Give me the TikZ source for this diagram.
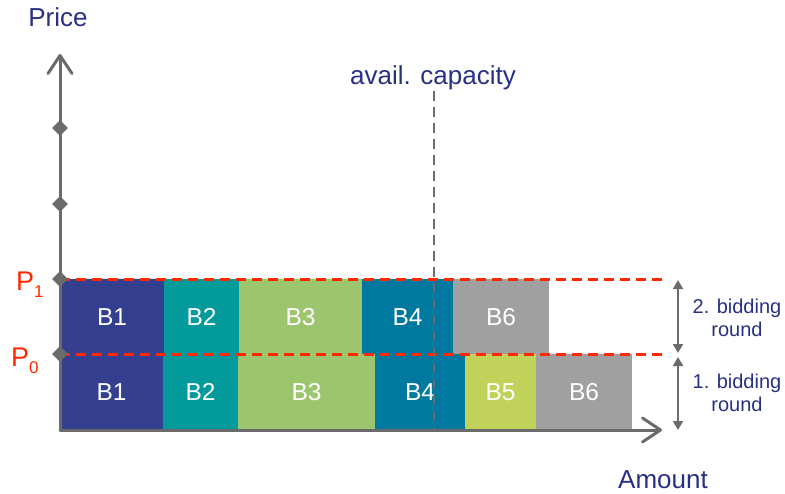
\documentclass[tikz,border=0pt]{standalone}
\usepackage{fontspec}
\setmainfont{Liberation Sans}
\usetikzlibrary{arrows.meta,shapes.geometric}
\definecolor{axisgrey}{RGB}{107,107,107}
\definecolor{labelblue}{RGB}{40,48,130}
\definecolor{pricered}{RGB}{255,40,0}
\definecolor{cbone}{RGB}{53,63,143}
\definecolor{cbtwo}{RGB}{2,154,154}
\definecolor{cbthree}{RGB}{157,197,109}
\definecolor{cbfour}{RGB}{0,121,160}
\definecolor{cbfive}{RGB}{192,210,90}
\definecolor{cbsix}{RGB}{160,160,160}
\begin{document}
\begin{tikzpicture}[x=1pt,y=-1pt,
  bid/.style={inner sep=0pt,outer sep=0pt,text=white,text height=17.5pt,text depth=0pt,
    font=\fontsize{24.5}{28}\selectfont},
  toprow/.style={bid,minimum height=75pt},
  botrow/.style={bid,minimum height=76pt},
  axisline/.style={draw=axisgrey,line width=3pt,line cap=round,line join=round,
    -{Straight Barb[length=18pt,width=24pt,line cap=round,line join=round]}},
  tickmark/.style={diamond,fill=axisgrey,inner sep=0pt,minimum width=16pt,minimum height=16pt},
  reddash/.style={draw=pricered,line width=3pt,dash pattern=on 10pt off 6pt},
  capline/.style={draw=axisgrey,line width=2.5pt,dash pattern=on 10pt off 6pt},
  span/.style={draw=axisgrey,line width=2pt,
    {Triangle[length=9pt,width=10pt]}-{Triangle[length=9pt,width=10pt]}},
  axislabel/.style={text=labelblue,font=\fontsize{26}{30}\selectfont,inner sep=0pt},
  roundlabel/.style={text=labelblue,font=\fontsize{20}{23}\selectfont,align=center,inner sep=0pt},
  pricelabel/.style={text=pricered,font=\fontsize{27}{30}\selectfont,inner sep=0pt}]
\useasboundingbox (0,0) rectangle (785,493);

% second bidding round (P0 .. P1)
\node[toprow,fill=cbone,minimum width=104pt]   (t1) at (112,316.5)   {B1};
\node[toprow,fill=cbtwo,minimum width=75pt]    (t2) at (201.5,316.5) {B2};
\node[toprow,fill=cbthree,minimum width=123pt] (t3) at (300.5,316.5) {B3};
\node[toprow,fill=cbfour,minimum width=91pt]   (t4) at (407.5,316.5) {B4};
\node[toprow,fill=cbsix,minimum width=96pt]    (t6) at (501,316.5)   {B6};

% first bidding round (0 .. P0)
\node[botrow,fill=cbone,minimum width=103pt]   (b1) at (111.5,392) {B1};
\node[botrow,fill=cbtwo,minimum width=75pt]    (b2) at (200.5,392) {B2};
\node[botrow,fill=cbthree,minimum width=137pt] (b3) at (306.5,392) {B3};
\node[botrow,fill=cbfour,minimum width=90pt]   (b4) at (420,392)   {B4};
\node[botrow,fill=cbfive,minimum width=71pt]   (b5) at (500.5,392) {B5};
\node[botrow,fill=cbsix,minimum width=96pt]    (b6) at (584,392)   {B6};

% axes
\coordinate (origin) at (60,430);
\coordinate (ytip) at (60,54);
\coordinate (xtip) at (662,430);

% price levels
\coordinate (pone) at (60,279);
\coordinate (pzero) at (60,354);
\coordinate (poneend) at (666,279);
\coordinate (pzeroend) at (666,354);
\draw[reddash] (pone) -- (poneend);
\draw[reddash] (pzero) -- (pzeroend);

% available capacity
\coordinate (captop) at (434,91);
\coordinate (capbot) at (434,430);
\draw[capline] (captop) -- (capbot);

\draw[axisline] (origin) -- (ytip);
\draw[axisline] (origin) -- (xtip);

\node[tickmark] (d1) at (60,128) {};
\node[tickmark] (d2) at (60,204) {};
\node[tickmark] (d3) at (pone) {};
\node[tickmark] (d4) at (pzero) {};

% bidding round spans
\coordinate (sa) at (678,280);
\coordinate (sb) at (678,353);
\coordinate (sc) at (678,357);
\coordinate (sd) at (678,430);
\draw[span] (sa) -- (sb);
\draw[span] (sc) -- (sd);

% labels
\node[axislabel,anchor=base] (price) at (58,26) {Price};
\node[axislabel,anchor=base] (amount) at (663,488) {Amount};
\node[axislabel,anchor=base] (avail) at (433,84) {avail. capacity};
\node[pricelabel,anchor=base west] (plone) at (16,290)
  {P\raisebox{-7pt}{\fontsize{17}{17}\selectfont 1}};
\node[pricelabel,anchor=base west] (plzero) at (11,366)
  {P\raisebox{-7pt}{\fontsize{17}{17}\selectfont 0}};
\node[roundlabel] (rtwo) at (737,318) {2. bidding\\round};
\node[roundlabel] (rone) at (737,393) {1. bidding\\round};
\end{tikzpicture}
\end{document}
